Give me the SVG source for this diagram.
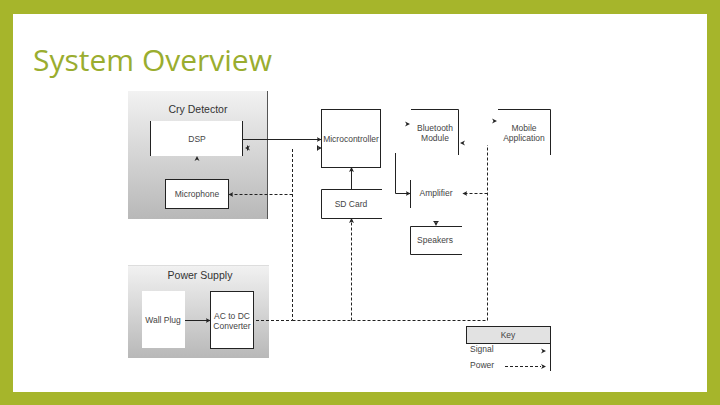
<svg xmlns="http://www.w3.org/2000/svg" width="720" height="405" viewBox="0 0 720 405">
<defs>
<linearGradient id="g" x1="0" y1="0" x2="0" y2="1">
<stop offset="0" stop-color="#f2f2f2"/>
<stop offset="1" stop-color="#b8b8b8"/>
</linearGradient>
<marker id="ah" viewBox="0 0 8 8" refX="7" refY="4" markerWidth="5" markerHeight="5" orient="auto" markerUnits="userSpaceOnUse">
<path d="M0,0 L8,4 L0,8 L2,4 Z" fill="#222"/>
</marker>
<path id="tri" d="M-4,-2.5 L1,0 L-4,2.5 L-2.5,0 Z" fill="#222"/>
</defs>
<style>
.t{font-family:"Liberation Sans",Arial,sans-serif;font-size:8.5px;fill:#444;text-anchor:middle}
.ls{text-anchor:start}
.h{font-family:"Liberation Sans",Arial,sans-serif;font-size:10.5px;fill:#333;text-anchor:middle}
.b{fill:#fff;stroke:#222;stroke-width:1}
.l{fill:none;stroke:#222;stroke-width:1}
.s{fill:none;stroke:#222;stroke-width:1;marker-end:url(#ah)}
.d{fill:none;stroke:#222;stroke-width:1;stroke-dasharray:3,2}
.da{fill:none;stroke:#222;stroke-width:1;stroke-dasharray:3,2;marker-end:url(#ah)}
</style>
<rect x="0" y="0" width="720" height="405" fill="#a6b52b"/>
<rect x="13" y="14" width="694" height="378" fill="#fff"/>
<text x="33" y="71" font-family="Open Sans, Lato, sans-serif" font-size="30" fill="#9aad2f">System Overview</text>

<g id="cry-detector">
<rect x="128" y="91" width="140" height="128" fill="url(#g)"/>
<line x1="267.5" y1="91" x2="267.5" y2="219" stroke="#555" stroke-width="1"/>
<text class="h" x="198" y="113">Cry Detector</text>
</g>
<g id="dsp">
<rect x="150" y="121" width="93" height="35" fill="#fff"/>
<path class="l" d="M150.5,121 V156 M242.5,121 V156"/>
<text class="t" x="197" y="142">DSP</text>
</g>
<g id="microphone">
<rect class="b" x="165.5" y="179.5" width="63" height="29"/>
<text class="t" x="197" y="197">Microphone</text>
</g>
<g id="microcontroller">
<rect class="b" x="321.5" y="109.5" width="59" height="58"/>
<text class="t" x="351" y="142">Microcontroller</text>
</g>
<g id="sd-card">
<path class="l" d="M382,189.5 H321.5 V218.5 H382"/>
<text class="t" x="351" y="207">SD Card</text>
</g>
<g id="bluetooth">
<path class="l" d="M411,109.5 H458.5 V155"/>
<text class="t" x="435" y="131">Bluetooth</text>
<text class="t" x="435" y="141">Module</text>
</g>
<g id="mobile-app">
<path class="l" d="M498,109.5 H550.5 V155"/>
<text class="t" x="524" y="131">Mobile</text>
<text class="t" x="524" y="141">Application</text>
</g>
<g id="amplifier">
<path class="l" d="M410.5,180 V208"/>
<text class="t" x="436" y="196">Amplifier</text>
</g>
<g id="speakers">
<path class="l" d="M462,226.5 H410.5 V254.5 H462"/>
<text class="t" x="435" y="243">Speakers</text>
</g>
<g id="power-supply">
<rect x="128" y="265" width="141" height="93" fill="url(#g)"/>
<line x1="128" y1="265.5" x2="269" y2="265.5" stroke="#ddd"/>
<text class="h" x="200" y="279">Power Supply</text>
</g>
<g id="wall-plug">
<rect x="142" y="291" width="43" height="57" fill="#fff"/>
<text class="t" x="163" y="323">Wall Plug</text>
</g>
<g id="ac-dc">
<rect class="b" x="210.5" y="291.5" width="43" height="57"/>
<text class="t" x="232" y="319">AC to DC</text>
<text class="t" x="232" y="329">Converter</text>
</g>
<g id="key">
<rect x="466.5" y="326.5" width="84" height="17" fill="#e2e2e2" stroke="#222"/>
<path class="l" d="M550.5,343 V371"/>
<text class="t" x="508" y="338">Key</text>
<text class="t ls" x="470" y="352">Signal</text>
<text class="t ls" x="470" y="368">Power</text>
<use href="#tri" x="545" y="351"/>
<path class="d" d="M505,366.5 H541"/>
<use href="#tri" x="545" y="366.5"/>
</g>

<g id="connectors">
<path class="s" d="M243,139.5 H321"/>
<use href="#tri" x="246" y="148" transform="rotate(180 246 148)"/>
<line x1="247.5" y1="145.5" x2="247.5" y2="150.5" stroke="#222"/>
<use href="#tri" x="321" y="148"/>
<line x1="317.5" y1="145.5" x2="317.5" y2="150.5" stroke="#222"/>
<use href="#tri" x="197" y="157" transform="rotate(-90 197 157)"/>
<path class="d" d="M292.5,149 V320.5 H254"/>
<path class="da" d="M292.5,194.5 H229"/>
<path class="s" d="M351.5,189 V167.5"/>
<path class="da" d="M351.5,320.5 V218.5"/>
<path class="d" d="M292.5,320.5 H487.5 V145"/>
<path class="da" d="M487.5,193.5 H463"/>
<path class="s" d="M395.5,153 V193.5 H410"/>
<use href="#tri" x="409" y="124"/>
<use href="#tri" x="461" y="143" transform="rotate(180 461 143)"/>
<use href="#tri" x="496" y="121"/>
<use href="#tri" x="436" y="225" transform="rotate(90 436 225)"/>
<line x1="433.5" y1="221.5" x2="438.5" y2="221.5" stroke="#222"/>
<path class="s" d="M185,320.5 H210"/>
</g>
</svg>
